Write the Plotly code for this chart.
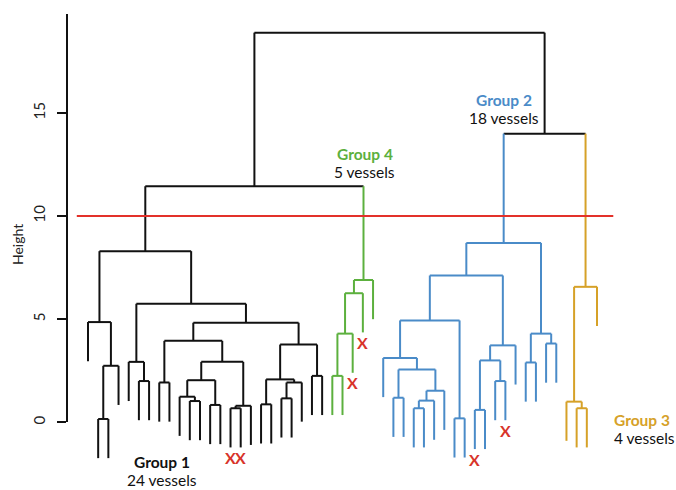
import plotly.graph_objects as go

# ---------------- data (hclust-style merge table) ----------------
# negative = leaf number (1-based, display order), positive = earlier merge row (1-based)
merge_left = [-2, 1, -1, -6, -5, -8, -11, -10, -13, 8, -15, 11, 10, 6, -18, -20, 16, 15, -23, 18,
              14, 5, 3, -25, 24, 25, 26, -31, -33, 29, 30, 28, -30, -37, 33, -39, -41, 36, 38, 35,
              -44, -46, 41, 40, -49, -48, 46, 23, 44, 48]
merge_right = [-3, -4, 2, -7, 4, -9, -12, 7, -14, 9, -16, -17, 12, 13, -19, -21, -22, 17, -24, 19,
               20, 21, 22, -26, -27, -28, -29, -32, -34, -35, -36, 31, 32, -38, 34, -40, -42, 37, -43, 39,
               -45, -47, 42, 43, -50, 45, -51, 27, 47, 49]
merge_height = [0.16, 2.74, 4.86, 2.00, 2.93, 1.93, 1.03, 1.24, 0.84, 2.04, 0.68, 0.80, 2.93, 3.95, 0.87, 1.16, 1.93, 2.08, 2.25, 3.77,
                4.83, 5.75, 8.30, 2.25, 4.30, 6.26, 6.90, 1.19, 0.68, 1.05, 1.53, 2.56, 3.12, 0.19, 4.94, 0.60, 2.00, 3.00, 3.73, 7.12,
                2.90, 3.82, 4.30, 8.70, 0.68, 1.00, 6.57, 11.45, 14.00, 18.90]

cut_height = 10
leaf_hang = 1.9

group_names = ["Group 1", "Group 4", "Group 2", "Group 3"]
group_sizes = [24, 5, 18, 4]
group_colors = ["#111111", "#5cb03e", "#4a8bc8", "#d6a128"]
group_label_x = [7.27, 27.2, 40.9, 51.45]
group_name_y = [-1.93, 13.0, 15.62, 0.12]
group_count_y = [-2.81, 12.12, 14.74, -0.76]
group_label_align = ["center", "center", "center", "left"]

marked_leaves = [15, 16, 27, 28, 39, 42]
y_ticks = [0, 5, 10, 15]
y_axis_top = 19.8
cut_line_span = [-1.1, 51.6]

# ---------------- tree geometry ----------------
n = len(merge_height)
leaf_order = []


def walk(c):
    if c < 0:
        leaf_order.append(-c)
    else:
        walk(merge_left[c - 1])
        walk(merge_right[c - 1])


walk(n)
leaf_pos = {leaf: i for i, leaf in enumerate(leaf_order)}
node_x = {}
parent = {}


def xpos(c):
    if c < 0:
        return leaf_pos[-c]
    if c not in node_x:
        node_x[c] = (xpos(merge_left[c - 1]) + xpos(merge_right[c - 1])) / 2
    return node_x[c]


for i in range(1, n + 1):
    xpos(i)
    parent[merge_left[i - 1]] = i
    parent[merge_right[i - 1]] = i

# clusters below the cut, ordered left to right
roots = [i for i in range(1, n + 1)
         if merge_height[i - 1] < cut_height and merge_height[parent[i] - 1] >= cut_height]
roots.sort(key=lambda r: node_x[r])
color_of = {}


def paint(c, colr):
    color_of[c] = colr
    if c > 0:
        paint(merge_left[c - 1], colr)
        paint(merge_right[c - 1], colr)


for k, r in enumerate(roots):
    paint(r, group_colors[k])


def col(c):
    return color_of.get(c, "#111111")


def top(c, h):
    return h - leaf_hang if c < 0 else merge_height[c - 1]


segs = {}
for i in range(1, n + 1):
    h = merge_height[i - 1]
    a, b = merge_left[i - 1], merge_right[i - 1]
    xa, xb = xpos(a), xpos(b)
    segs.setdefault(col(i), []).append(([xa, xb], [h, h]))
    segs.setdefault(col(a), []).append(([xa, xa], [top(a, h), h]))
    segs.setdefault(col(b), []).append(([xb, xb], [top(b, h), h]))

fig = go.Figure()
for c, lst in segs.items():
    xs, ys = [], []
    for sx, sy in lst:
        xs += sx + [None]
        ys += sy + [None]
    fig.add_trace(go.Scatter(x=xs, y=ys, mode="lines", line=dict(color=c, width=2),
                             hoverinfo="skip", showlegend=False))

# cut line
fig.add_trace(go.Scatter(x=cut_line_span, y=[cut_height, cut_height], mode="lines",
                         line=dict(color="#e3312a", width=2), hoverinfo="skip", showlegend=False))

# X marks below selected leaves
for leaf in marked_leaves:
    p = parent[-leaf]
    fig.add_annotation(x=leaf_pos[leaf], y=merge_height[p - 1] - leaf_hang, xref="x", yref="y",
                       text="<b>X</b>", showarrow=False, xanchor="center", yanchor="middle", yshift=-10,
                       font=dict(color="#d8342a", size=16, family="Lato"))

# invisible trace to carry the height axis
fig.add_trace(go.Scatter(x=[0], y=[0], xaxis="x2", yaxis="y2", mode="markers",
                         marker=dict(opacity=0), hoverinfo="skip", showlegend=False))

for k in range(len(group_names)):
    anchor = "center" if group_label_align[k] == "center" else "left"
    fig.add_annotation(x=group_label_x[k], y=group_name_y[k], xref="x", yref="y",
                       text=f"<b>{group_names[k]}</b>", showarrow=False,
                       xanchor=anchor, yanchor="middle",
                       font=dict(family="Lato", size=15.5, color=group_colors[k]))
    fig.add_annotation(x=group_label_x[k], y=group_count_y[k], xref="x", yref="y",
                       text=f"{group_sizes[k]} vessels", showarrow=False,
                       xanchor=anchor, yanchor="middle",
                       font=dict(family="Lato", size=15.5, color="#111111"))

W, H = 676, 490
px_leaf, first_px = 10.18, 88
px_unit, zero_px, axis_top_px, axis_px = 20.7, 424, 14, 68
x0 = -first_px / px_leaf
fig.add_annotation(text="Height", xref="paper", yref="paper", x=18 / W, y=(H - 246) / H,
                   xanchor="center", yanchor="middle",
                   textangle=-90, showarrow=False, font=dict(family="Lato", size=14, color="#222222"))
fig.update_layout(
    width=W, height=H, margin=dict(l=0, r=0, t=0, b=0),
    paper_bgcolor="white", plot_bgcolor="rgba(0,0,0,0)",
    xaxis=dict(range=[x0, x0 + W / px_leaf], visible=False, domain=[0, 1]),
    yaxis=dict(range=[-(H - zero_px) / px_unit, zero_px / px_unit], visible=False, domain=[0, 1]),
    xaxis2=dict(domain=[axis_px / W, 1], visible=False, anchor="y2", range=[0, 1]),
    yaxis2=dict(domain=[(H - zero_px) / H, (H - axis_top_px) / H], anchor="x2",
                range=[0, y_axis_top], showline=True, linecolor="#111111", linewidth=1.5,
                ticks="outside", ticklen=9, tickwidth=1.5, tickcolor="#111111",
                tickvals=y_ticks, ticktext=[str(t) for t in y_ticks], tickangle=-90,
                tickfont=dict(family="Lato", size=15, color="#222222"),
                ticklabelstandoff=6, showgrid=False, zeroline=False),
)
fig.write_html("out.html", config={"displayModeBar": False},
               post_script="document.body.style.margin='0px';")
